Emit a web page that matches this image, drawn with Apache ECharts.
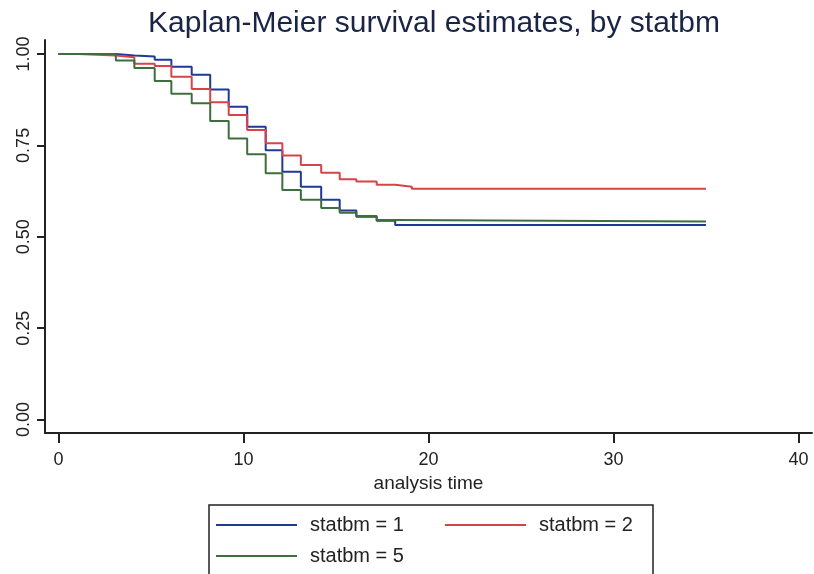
<!DOCTYPE html>
<html>
<head>
<meta charset="utf-8">
<script src="https://cdn.jsdelivr.net/npm/echarts@6/dist/echarts.min.js"></script>
<style>
html,body{margin:0;padding:0;background:#fff;}
#chart{width:814px;height:574px;}
</style>
</head>
<body>
<div id="chart"></div>
<script>
// ---- data ----
var titleText = 'Kaplan-Meier survival estimates, by statbm';
var xAxisTitle = 'analysis time';
var xTicks = [0, 10, 20, 30, 40];
var yTicks = [0, 0.25, 0.5, 0.75, 1];
var seriesNames = ['statbm = 1', 'statbm = 2', 'statbm = 5'];

var time1 = [0, 3.1, 4.1, 5.2, 6.1, 7.2, 8.2, 9.2, 10.2, 11.2, 12.1, 13.1, 14.2, 15.2, 16.1, 17.2, 18.2, 35];
var surv1 = [1.0, 0.996, 0.993, 0.984, 0.965, 0.943, 0.903, 0.856, 0.801, 0.737, 0.678, 0.637, 0.601, 0.572, 0.555, 0.544, 0.532, 0.532];

var time2 = [0, 1.07, 3.1, 4.1, 5.2, 6.1, 7.2, 8.2, 9.2, 10.2, 11.2, 12.1, 13.1, 14.2, 15.2, 16.1, 17.2, 18.2, 19.1, 35];
var surv2 = [1.0, 0.996, 0.991, 0.973, 0.967, 0.938, 0.904, 0.868, 0.833, 0.792, 0.756, 0.722, 0.696, 0.675, 0.657, 0.651, 0.642, 0.637, 0.631, 0.631];

var time5 = [0, 3.1, 4.1, 5.2, 6.1, 7.2, 8.2, 9.2, 10.2, 11.2, 12.1, 13.1, 14.2, 15.2, 16.1, 17.2, 18.2, 35];
var surv5 = [1.0, 0.982, 0.962, 0.926, 0.891, 0.865, 0.817, 0.769, 0.726, 0.674, 0.628, 0.601, 0.579, 0.566, 0.557, 0.546, 0.542, 0.542];

var colors = ['#1f3a94', '#d6444a', '#3e6e3e'];

function pairs(t, s) { return t.map(function (v, i) { return [v, s[i]]; }); }

var FONT = "'Liberation Sans', Arial, sans-serif";
var chart = echarts.init(document.getElementById('chart'), null, {renderer: 'canvas'});

function mkSeries(name, t, s, c) {
  return {
    name: name, type: 'line', step: 'end', symbol: 'none', showSymbol: false,
    data: pairs(t, s), lineStyle: {color: c, width: 2}, itemStyle: {color: c},
    silent: true
  };
}

function mkLegend(name, left, top) {
  return {
    data: [name], left: left, top: top, itemWidth: 81, itemHeight: 2, itemGap: 0,
    icon: 'rect', padding: 0,
    textStyle: {fontFamily: FONT, fontSize: 20, color: '#222', padding: [0, 0, 0, 8]},
    selectedMode: false
  };
}

chart.setOption({
  animation: false,
  backgroundColor: '#ffffff',
  title: {
    text: titleText, left: 143, top: 4,
    textStyle: {fontFamily: FONT, fontSize: 30, fontWeight: 'normal', color: '#1a2444'}
  },
  grid: {left: 45, right: 2, top: 40, bottom: 141, containLabel: false},
  xAxis: {
    type: 'value', min: -0.73, max: 40.73,
    name: xAxisTitle, nameLocation: 'middle', nameGap: 40,
    nameTextStyle: {fontFamily: FONT, fontSize: 19, color: '#222'},
    axisLine: {show: true, onZero: false, lineStyle: {color: '#222', width: 2}},
    axisTick: {show: true, length: 10, lineStyle: {color: '#222', width: 2}, customValues: xTicks},
    axisLabel: {fontFamily: FONT, fontSize: 18, color: '#222', margin: 18, customValues: xTicks},
    splitLine: {show: false}
  },
  yAxis: {
    type: 'value', min: -0.0369, max: 1.0383,
    axisLine: {show: true, onZero: false, lineStyle: {color: '#222', width: 2}},
    axisTick: {show: true, length: 8, lineStyle: {color: '#222', width: 2}, customValues: yTicks},
    axisLabel: {fontFamily: FONT, fontSize: 18, color: '#222', margin: 12, rotate: 90,
      customValues: yTicks, formatter: function (v) { return v.toFixed(2); }},
    splitLine: {show: false}
  },
  legend: [
    mkLegend(seriesNames[0], 216, 515),
    mkLegend(seriesNames[1], 445, 515),
    mkLegend(seriesNames[2], 216, 546)
  ],
  graphic: [{
    type: 'rect', z: -1, silent: true,
    shape: {x: 209, y: 505, width: 444, height: 120},
    style: {fill: '#fff', stroke: '#222', lineWidth: 1.5}
  }],
  series: [
    mkSeries(seriesNames[0], time1, surv1, colors[0]),
    mkSeries(seriesNames[1], time2, surv2, colors[1]),
    mkSeries(seriesNames[2], time5, surv5, colors[2])
  ]
});
</script>
</body>
</html>
